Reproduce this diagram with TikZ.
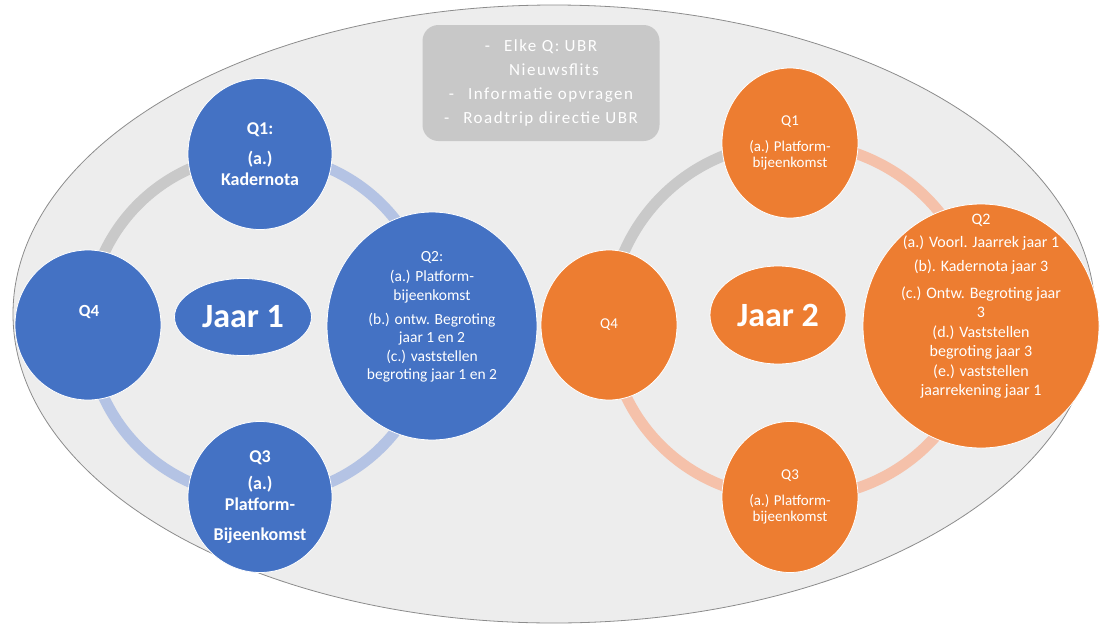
\documentclass[tikz,border=0pt]{standalone}
\usepackage{fontspec}
\setmainfont{Carlito}
\newfontfamily\infofont[LetterSpace=9]{Carlito}
\usetikzlibrary{shapes.geometric}
\pgfdeclarelayer{back}
\pgfdeclarelayer{ring}
\pgfsetlayers{back,ring,main}
\definecolor{jblue}{HTML}{4472C4}
\definecolor{jorange}{HTML}{ED7D31}
\definecolor{ringblue}{HTML}{B4C3E4}
\definecolor{ringorange}{HTML}{F5C1AA}
\definecolor{ringgray}{HTML}{C9C9C9}
\definecolor{bgfill}{HTML}{EDEDED}
\definecolor{boxgray}{HTML}{C8C8C8}
\newcommand{\qbig}{\fontsize{18}{21}\selectfont\bfseries}
\newcommand{\qsmall}{\fontsize{15}{16.5}\selectfont}
\newcommand{\qmid}{\fontsize{15.5}{18.5}\selectfont}
\newcommand{\qlarge}{\fontsize{16}{19.5}\selectfont}
\newcommand{\jaar}{\fontsize{34}{40}\selectfont\bfseries}

\begin{document}
\begin{tikzpicture}[x=1pt,y=-1pt,
	q node/.style={ellipse,inner sep=0pt,draw=white,line width=.8pt,text=white,align=center},
	blue node/.style={q node,fill=jblue},
	orange node/.style={q node,fill=jorange},
	q text/.style={text=white,align=center,inner sep=0pt},
	ring/.style={line width=11pt}]

    \useasboundingbox (0,0) rectangle (1100,624);

    \node[fill=boxgray,rounded corners=16pt,minimum width=237,minimum height=116,
      text=white,align=center,font=\infofont\fontsize{17}{24}\selectfont] (info) at (541,83)
      {-\hspace{14pt}Elke Q: UBR\\\hspace{26pt}Nieuwsflits\\-\hspace{14pt}Informatie opvragen\\-\hspace{14pt}Roadtrip directie UBR};

    % jaar 1
    \node[blue node,minimum width=144,minimum height=151,font=\qbig] (A1) at (260,154) {Q1:\\[9pt](a.)\\Kadernota};
    \node[blue node,minimum width=210,minimum height=228] (A2) at (432,326) {};
    \node[blue node,minimum width=144,minimum height=151,font=\qbig] (A3) at (260,497) {Q3\\[6pt](a.)\\Platform-\\[9pt]Bijeenkomst};
    \node[blue node,minimum width=146,minimum height=150] (A4) at (88,325) {};
    \node[blue node,minimum width=137,minimum height=77,font=\jaar] (J1) at (243,317) {Jaar 1};
    \node[q text,font=\qmid] (A2 text) at (432,317) {Q2:\\[1.5pt](a.) Platform-\\bijeenkomst\\[5.5pt](b.) ontw. Begroting\\jaar 1 en 2\\(c.) vaststellen\\begroting jaar 1 en 2};
    \node[q text,font=\fontsize{17}{20}\selectfont\bfseries] (A4 text) at (89,312) {Q4};

    % jaar 2
    \node[orange node,minimum width=136,minimum height=150,font=\qsmall] (B1) at (790,143) {Q1\\[9.5pt](a.) Platform-\\bijeenkomst};
    \node[orange node,minimum width=236,minimum height=244] (B2) at (981,326) {};
    \node[orange node,minimum width=136,minimum height=151,font=\qsmall] (B3) at (790,497) {Q3\\[9.5pt](a.) Platform-\\bijeenkomst};
    \node[orange node,minimum width=136,minimum height=150,font=\qsmall] (B4) at (609,325) {Q4};
    \node[orange node,minimum width=136,minimum height=98,font=\jaar] (J2) at (778,315) {Jaar 2};
    \node[q text,font=\qlarge] (B2 text) at (981,306) {Q2\\[3.5pt](a.) Voorl. Jaarrek jaar 1\\[4.5pt](b). Kadernota jaar 3\\[7.5pt](c.) Ontw. Begroting jaar\\3\\(d.) Vaststellen\\begroting jaar 3\\(e.) vaststellen\\jaarrekening jaar 1};

    \begin{pgfonlayer}{back}
      \draw[fill=bgfill,draw=gray!90,line width=.8pt] (554,314) ellipse [x radius=541,y radius=309];
    \end{pgfonlayer}

    \begin{pgfonlayer}{ring}
      \draw[ring,ringgray] (A4.center) to[bend left=45] (A1.center);
      \draw[ring,ringblue] (A1.center) to[bend left=45] (A2.center) to[bend left=45] (A3.center) to[bend left=45] (A4.center);
      \draw[ring,ringgray] (B4.center) to[bend left=45] (B1.center);
      \draw[ring,ringorange] (B1.center) to[bend left=45] (B2.center) to[bend left=45] (B3.center) to[bend left=45] (B4.center);
    \end{pgfonlayer}

\end{tikzpicture}
\end{document}
